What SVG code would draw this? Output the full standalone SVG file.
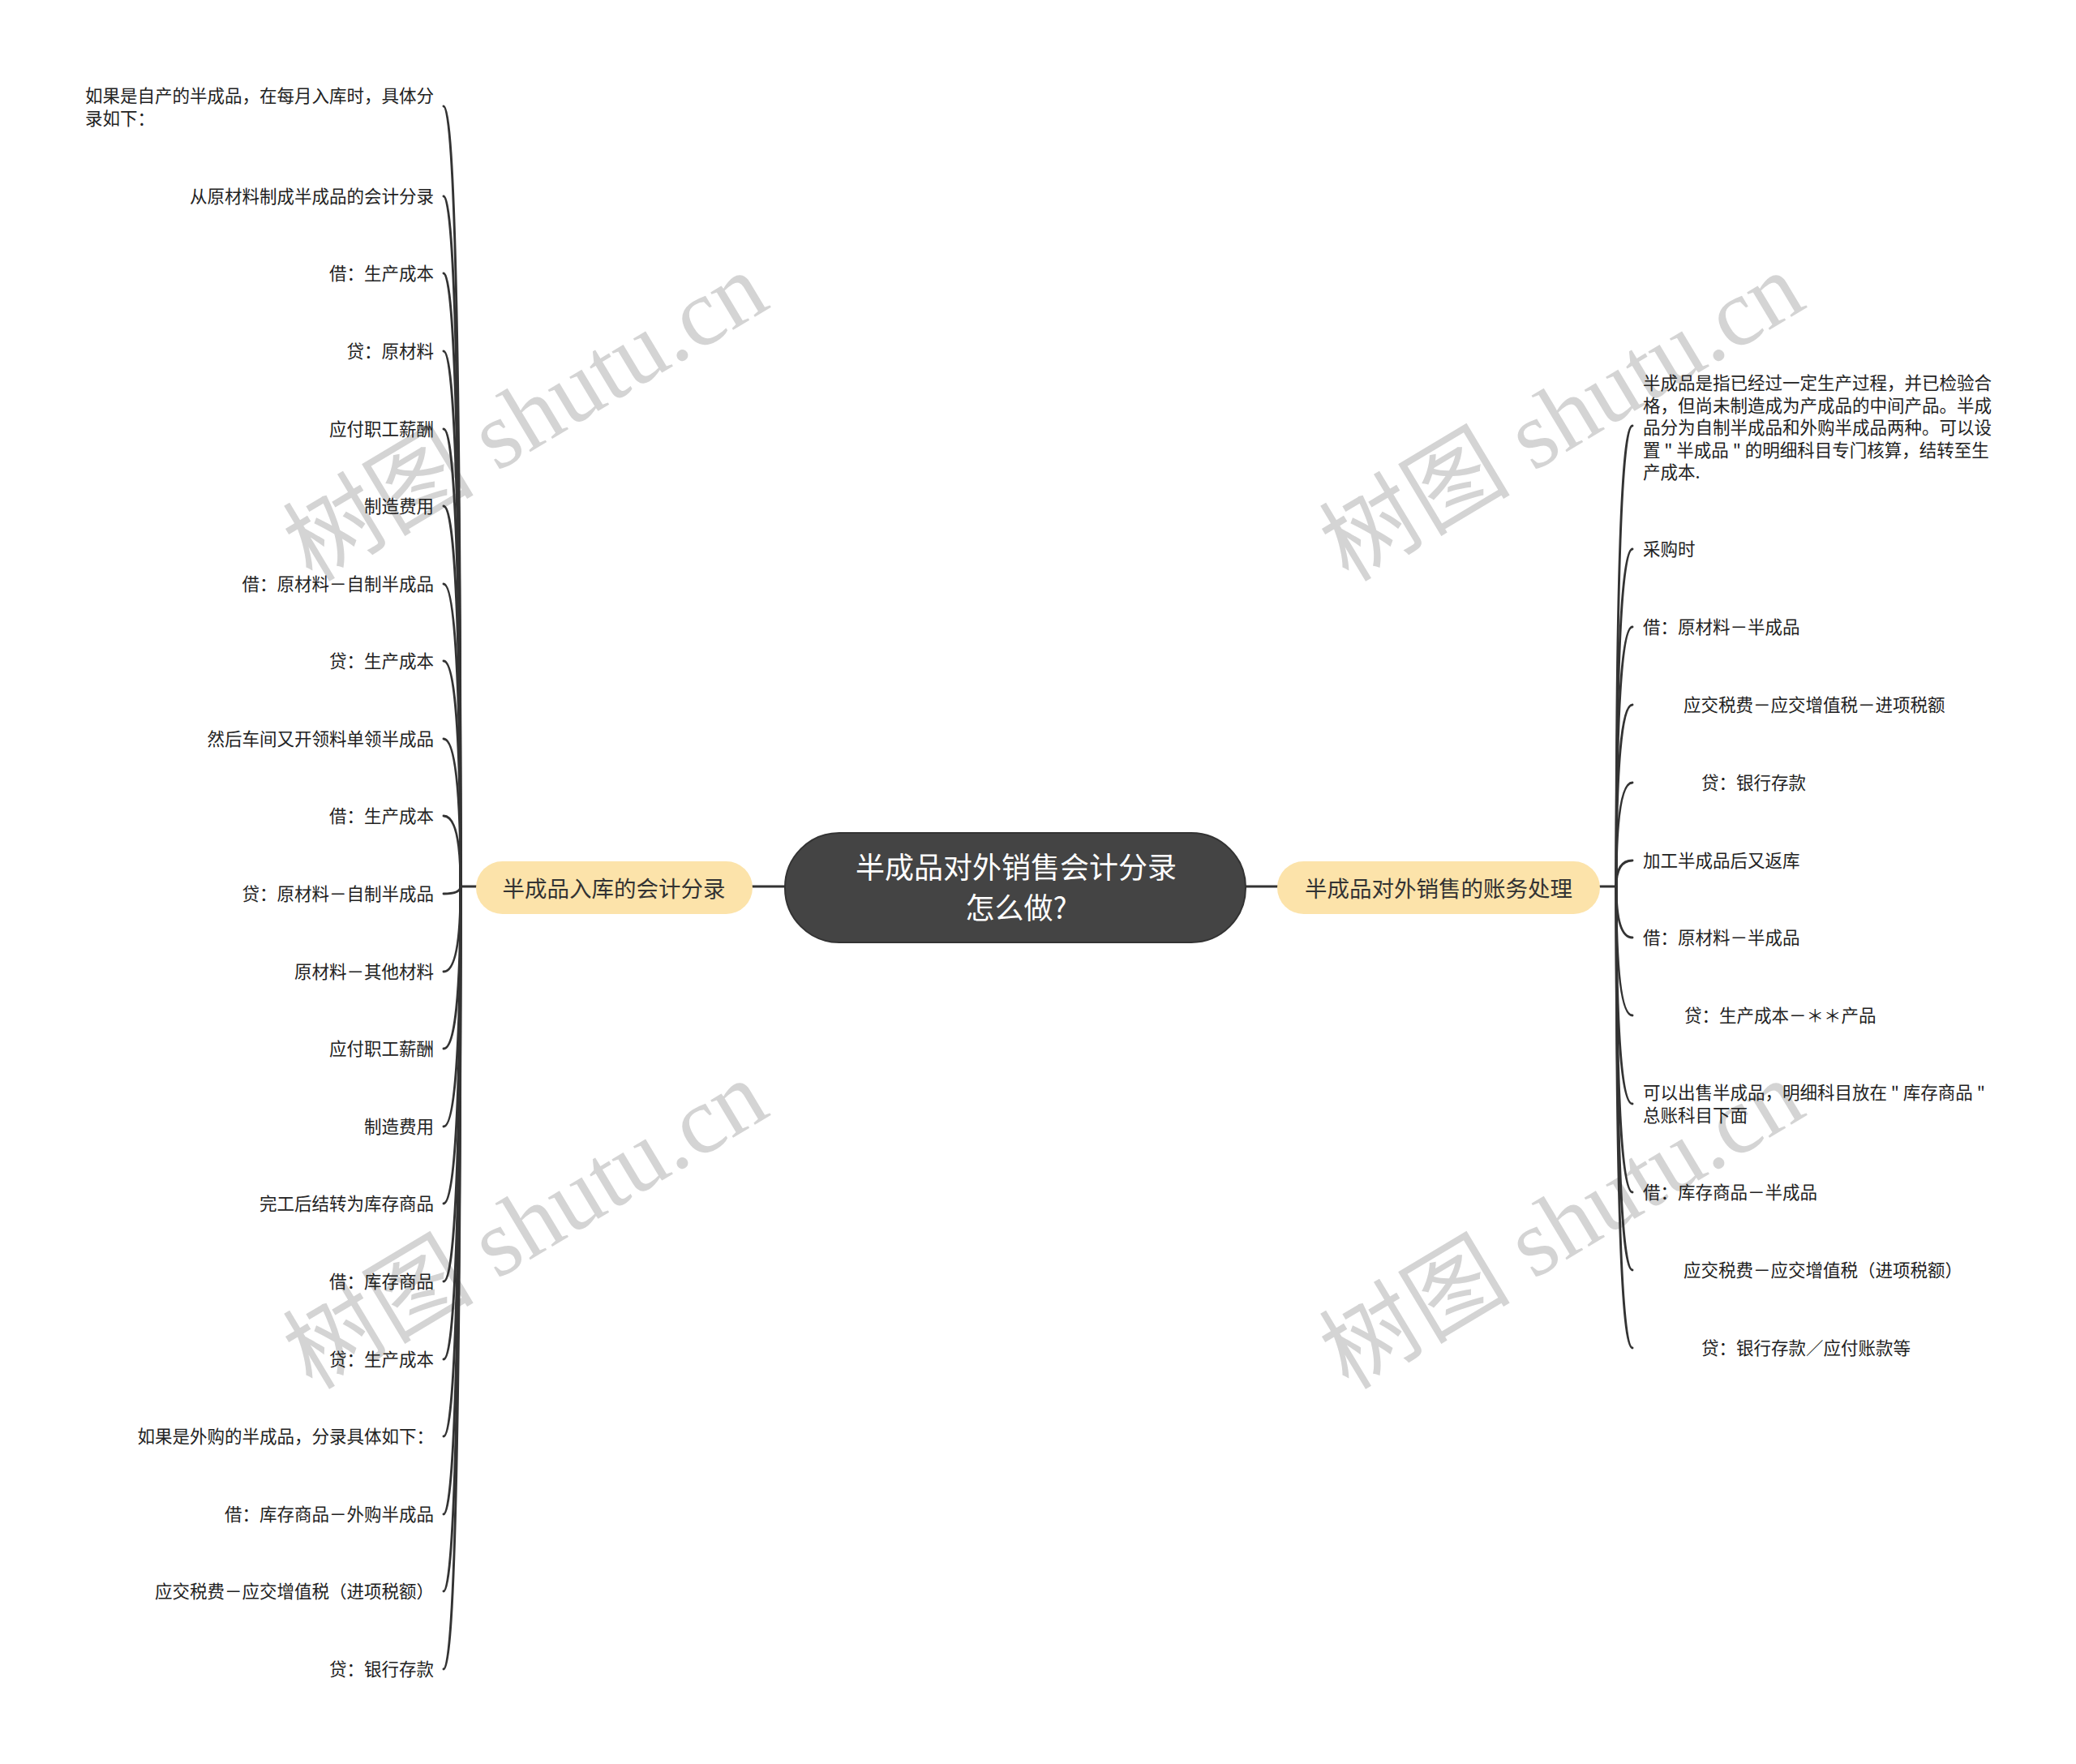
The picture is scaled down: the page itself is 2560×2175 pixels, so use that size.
<svg xmlns="http://www.w3.org/2000/svg" width="2560" height="2175" viewBox="0 0 2560 2175">
<style>
.wm{font-family:"Liberation Serif","Noto Sans CJK SC",serif;font-size:118px;fill:#d4d4d4;text-anchor:middle}
.leaf{font-family:"Noto Sans CJK SC","Noto Sans",sans-serif;font-size:21.5px;fill:#222;dominant-baseline:central}
.l{text-anchor:end}
.branch{fill:#fce3aa}
.btext{font-family:"Noto Sans CJK SC","Noto Sans",sans-serif;font-size:27.5px;fill:#333;text-anchor:middle;dominant-baseline:central}
.ctext{font-family:"Noto Sans CJK SC","Noto Sans",sans-serif;font-size:36px;fill:#fff;text-anchor:middle;dominant-baseline:central}
.c{fill:none;stroke:#333;stroke-width:2.9;stroke-linecap:round}
</style>
<rect width="2560" height="2175" fill="#fff"/>
<g id="watermarks">
<text class="wm" transform="translate(648,514) rotate(-31)" y="40">树图 shutu.cn</text>
<text class="wm" transform="translate(1926,514) rotate(-31)" y="40">树图 shutu.cn</text>
<text class="wm" transform="translate(648,1510) rotate(-31)" y="40">树图 shutu.cn</text>
<text class="wm" transform="translate(1926,1510) rotate(-31)" y="40">树图 shutu.cn</text>
</g>
<g id="connectors">
<path class="c" d="M928,1093 L968,1093"/>
<path class="c" d="M1536,1093 L1575,1093"/>
<path class="c" d="M587,1093 L568,1093"/>
<path class="c" d="M1973,1093 L1993,1093"/>
<path class="c" d="M568,1093 Q568,131 547,131"/>
<path class="c" d="M568,1093 Q568,242 547,242"/>
<path class="c" d="M568,1093 Q568,337 547,337"/>
<path class="c" d="M568,1093 Q568,433 547,433"/>
<path class="c" d="M568,1093 Q568,529 547,529"/>
<path class="c" d="M568,1093 Q568,624 547,624"/>
<path class="c" d="M568,1093 Q568,720 547,720"/>
<path class="c" d="M568,1093 Q568,815 547,815"/>
<path class="c" d="M568,1093 Q568,911 547,911"/>
<path class="c" d="M568,1093 Q568,1006 547,1006"/>
<path class="c" d="M568,1093 Q568,1102 547,1102"/>
<path class="c" d="M568,1093 Q568,1198 547,1198"/>
<path class="c" d="M568,1093 Q568,1293 547,1293"/>
<path class="c" d="M568,1093 Q568,1389 547,1389"/>
<path class="c" d="M568,1093 Q568,1484 547,1484"/>
<path class="c" d="M568,1093 Q568,1580 547,1580"/>
<path class="c" d="M568,1093 Q568,1676 547,1676"/>
<path class="c" d="M568,1093 Q568,1771 547,1771"/>
<path class="c" d="M568,1093 Q568,1867 547,1867"/>
<path class="c" d="M568,1093 Q568,1962 547,1962"/>
<path class="c" d="M568,1093 Q568,2058 547,2058"/>
<path class="c" d="M1993,1093 Q1993,525 2013,525"/>
<path class="c" d="M1993,1093 Q1993,677 2013,677"/>
<path class="c" d="M1993,1093 Q1993,773 2013,773"/>
<path class="c" d="M1993,1093 Q1993,869 2013,869"/>
<path class="c" d="M1993,1093 Q1993,965 2013,965"/>
<path class="c" d="M1993,1093 Q1993,1061 2013,1061"/>
<path class="c" d="M1993,1093 Q1993,1156 2013,1156"/>
<path class="c" d="M1993,1093 Q1993,1252 2013,1252"/>
<path class="c" d="M1993,1093 Q1993,1361 2013,1361"/>
<path class="c" d="M1993,1093 Q1993,1470 2013,1470"/>
<path class="c" d="M1993,1093 Q1993,1566 2013,1566"/>
<path class="c" d="M1993,1093 Q1993,1662 2013,1662"/>
</g>
<g id="center">
<rect x="968" y="1027" width="568" height="135" rx="67" fill="#444" stroke="#333" stroke-width="2"/>
<text class="ctext" x="1253" y="1066.5">半成品对外销售会计分录</text>
<text class="ctext" x="1253" y="1116.5">怎么做?</text>
</g>
<g id="branch-left">
<rect class="branch" x="587" y="1062" width="341" height="65" rx="32.5"/>
<text class="btext" x="757" y="1094">半成品入库的会计分录</text>
</g>
<g id="branch-right">
<rect class="branch" x="1575" y="1062" width="398" height="65" rx="32.5"/>
<text class="btext" x="1774" y="1094">半成品对外销售的账务处理</text>
</g>
<g id="left-leaves" transform="translate(0,-1.5)">
<g id="L1"><text class="leaf" x="105" y="118">如果是自产的半成品，在每月入库时，具体分</text><text class="leaf" x="105" y="145.5">录如下：</text></g>
<g id="L2"><text class="leaf l" x="535" y="242">从原材料制成半成品的会计分录</text></g>
<g id="L3"><text class="leaf l" x="535" y="337">借：生产成本</text></g>
<g id="L4"><text class="leaf l" x="535" y="433">贷：原材料</text></g>
<g id="L5"><text class="leaf l" x="535" y="529">应付职工薪酬</text></g>
<g id="L6"><text class="leaf l" x="535" y="624">制造费用</text></g>
<g id="L7"><text class="leaf l" x="535" y="720">借：原材料－自制半成品</text></g>
<g id="L8"><text class="leaf l" x="535" y="815">贷：生产成本</text></g>
<g id="L9"><text class="leaf l" x="535" y="911">然后车间又开领料单领半成品</text></g>
<g id="L10"><text class="leaf l" x="535" y="1006">借：生产成本</text></g>
<g id="L11"><text class="leaf l" x="535" y="1102">贷：原材料－自制半成品</text></g>
<g id="L12"><text class="leaf l" x="535" y="1198">原材料－其他材料</text></g>
<g id="L13"><text class="leaf l" x="535" y="1293">应付职工薪酬</text></g>
<g id="L14"><text class="leaf l" x="535" y="1389">制造费用</text></g>
<g id="L15"><text class="leaf l" x="535" y="1484">完工后结转为库存商品</text></g>
<g id="L16"><text class="leaf l" x="535" y="1580">借：库存商品</text></g>
<g id="L17"><text class="leaf l" x="535" y="1676">贷：生产成本</text></g>
<g id="L18"><text class="leaf l" x="535" y="1771">如果是外购的半成品，分录具体如下：</text></g>
<g id="L19"><text class="leaf l" x="535" y="1867">借：库存商品－外购半成品</text></g>
<g id="L20"><text class="leaf l" x="535" y="1962">应交税费－应交增值税（进项税额）</text></g>
<g id="L21"><text class="leaf l" x="535" y="2058">贷：银行存款</text></g>
</g>
<g id="right-leaves" transform="translate(0,-1.5)">
<g id="R1">
<text class="leaf" x="2026" y="472">半成品是指已经过一定生产过程，并已检验合</text>
<text class="leaf" x="2026" y="499.5">格，但尚未制造成为产成品的中间产品。半成</text>
<text class="leaf" x="2026" y="527">品分为自制半成品和外购半成品两种。可以设</text>
<text class="leaf" x="2026" y="554.5">置 " 半成品 " 的明细科目专门核算，结转至生</text>
<text class="leaf" x="2026" y="582">产成本.</text>
</g>
<g id="R2"><text class="leaf" x="2026" y="677">采购时</text></g>
<g id="R3"><text class="leaf" x="2026" y="773">借：原材料－半成品</text></g>
<g id="R4"><text class="leaf" x="2076" y="869">应交税费－应交增值税－进项税额</text></g>
<g id="R5"><text class="leaf" x="2098" y="965">贷：银行存款</text></g>
<g id="R6"><text class="leaf" x="2026" y="1061">加工半成品后又返库</text></g>
<g id="R7"><text class="leaf" x="2026" y="1156">借：原材料－半成品</text></g>
<g id="R8"><text class="leaf" x="2077" y="1252">贷：生产成本－＊＊产品</text></g>
<g id="R9"><text class="leaf" x="2026" y="1347">可以出售半成品，明细科目放在 " 库存商品 "</text><text class="leaf" x="2026" y="1375">总账科目下面</text></g>
<g id="R10"><text class="leaf" x="2026" y="1470">借：库存商品－半成品</text></g>
<g id="R11"><text class="leaf" x="2076" y="1566">应交税费－应交增值税（进项税额）</text></g>
<g id="R12"><text class="leaf" x="2098" y="1662">贷：银行存款／应付账款等</text></g>
</g>
</svg>
